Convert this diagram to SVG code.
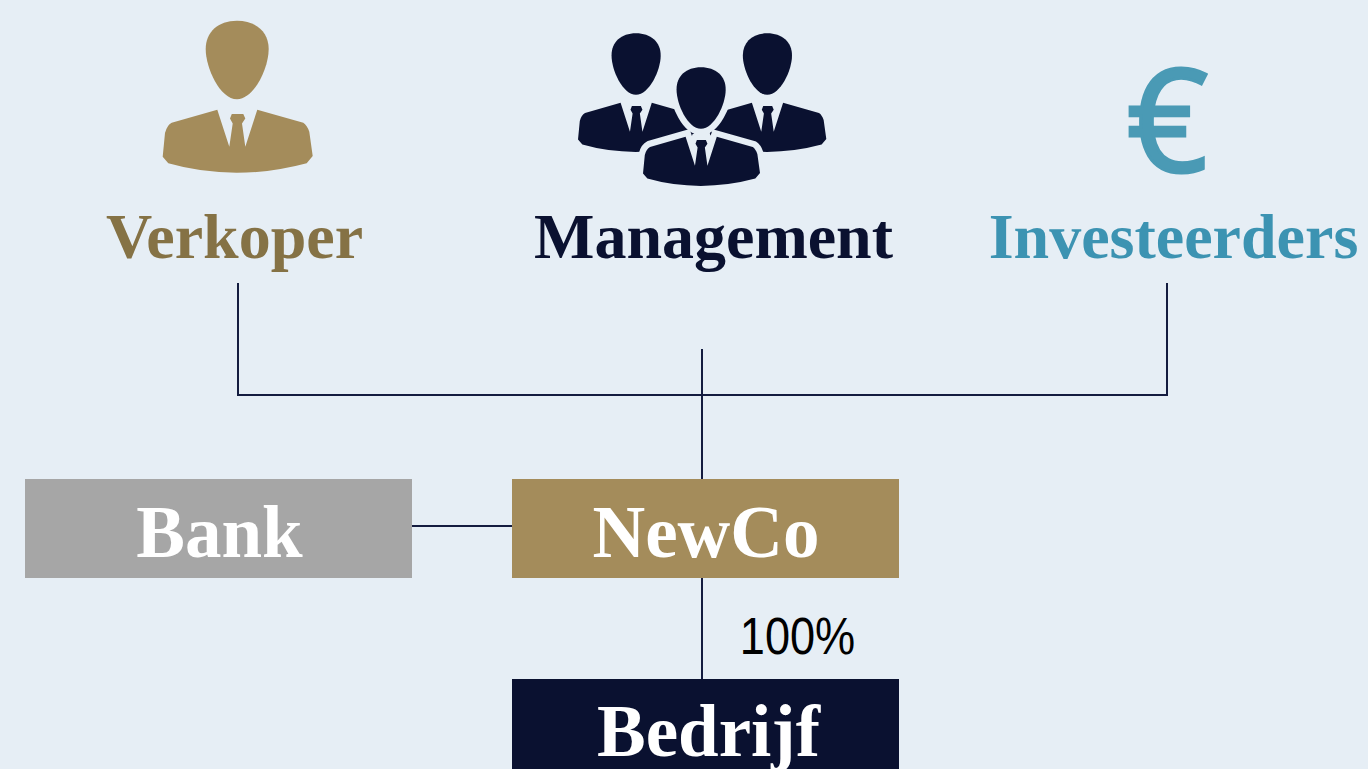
<svg xmlns="http://www.w3.org/2000/svg" width="1368" height="769" viewBox="0 0 1368 769">
<style>
.t{font-family:"Liberation Serif","Times New Roman",serif;font-weight:700;text-anchor:middle}
.l{font-size:64px}
.b{font-size:73px;fill:#fff}
.c{fill:none;stroke:#141c40;stroke-width:2}
</style>
<defs>
<g id="person">
<path d="M237 20.7C256 20.7 268.7 32 268.7 49C268.7 68 254 99.3 237 99.3C220 99.3 205.7 68 205.7 49C205.7 32 218 20.7 237 20.7Z"/>
<path d="M217.3 109.7L229.3 146.7L232.7 123.5L230 118.5L231.8 114H243.3L245.3 118.5L242 123.5L245.3 146.7L257.3 109.7L303.3 122.7Q307 125 309.3 131.7L312.7 156L306.7 163.3Q272 172.7 236.7 172.7Q201 172.7 168.3 163.3L162.7 156.7L165 133Q167 125 171.7 122.7Z"/>
</g>
</defs>
<rect width="1368" height="769" fill="#e6eef5"/>
<g id="connectors">
<path class="c" d="M238 283V395H1167V283"/>
<path class="c" d="M702 349V479"/>
<path class="c" d="M412 526H512"/>
<path class="c" d="M702 578V679"/>
</g>
<g id="verkoper">
<use href="#person" fill="#a48c5b"/>
<text class="t l" x="234.5" y="258" fill="#857245">Verkoper</text>
</g>
<g id="management" fill="#0a1130">
<use href="#person" transform="translate(451.1 17.2) scale(.78)"/>
<use href="#person" transform="translate(582.4 17.2) scale(.78)"/>
<use href="#person" transform="translate(516.1 51.2) scale(.78)" stroke="#e6eef5" stroke-width="16" style="paint-order:stroke"/>
<text class="t l" x="713.5" y="258" fill="#0a1130">Management</text>
</g>
<g id="investeerders">
<text x="1167.5" y="171.5" font-family="'Open Sans',sans-serif" font-size="143" font-weight="400" text-anchor="middle" fill="#4a9ab5" stroke="#4a9ab5" stroke-width="3">€</text>
<text class="t l" x="1173.5" y="258" fill="#3c93b2">Investeerders</text>
</g>
<g id="bank">
<rect x="25" y="479" width="387" height="99" fill="#a6a6a6"/>
<text class="t b" x="219.5" y="557">Bank</text>
</g>
<g id="newco">
<rect x="512" y="479" width="387" height="99" fill="#a48c5b"/>
<text class="t b" x="706" y="557">NewCo</text>
</g>
<g id="bedrijf">
<rect x="512" y="679" width="387" height="90" fill="#0a1130"/>
<text class="t b" x="708.5" y="756">Bedrijf</text>
</g>
<text transform="translate(797.5 654) scale(.885 1)" font-family="'Liberation Sans',Arial,sans-serif" font-size="51" text-anchor="middle" fill="#000">100%</text>
</svg>
